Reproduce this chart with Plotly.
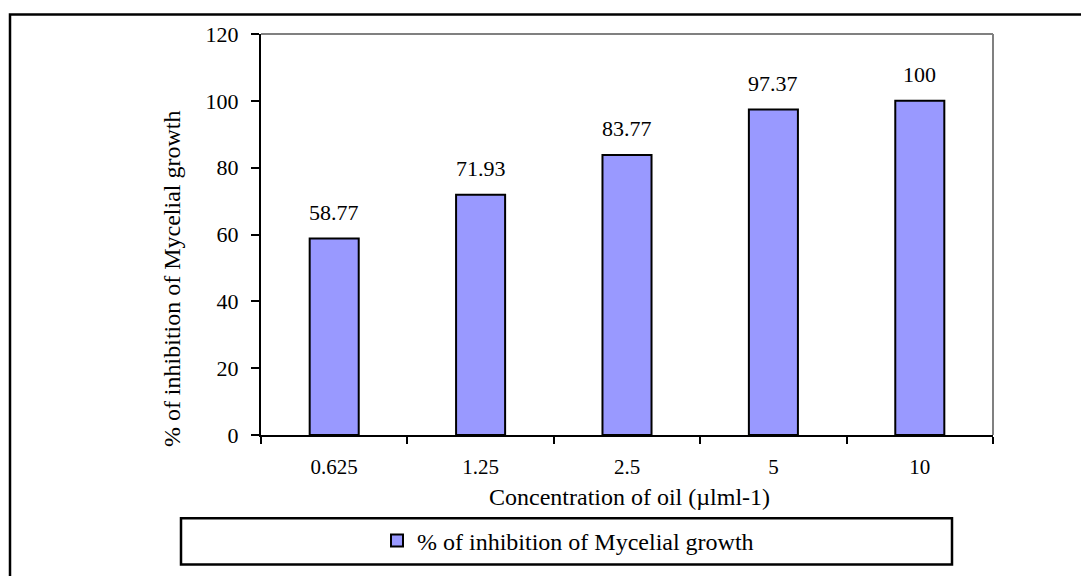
import plotly.graph_objects as go

# Concentration levels (µl/ml) and measured inhibition (%)
concentrations = ["0.625", "1.25", "2.5", "5", "10"]
inhibition = [58.77, 71.93, 83.77, 97.37, 100]
series_name = "% of inhibition of Mycelial growth"
y_ticks = [0, 20, 40, 60, 80, 100, 120]

FONT = "Liberation Serif"
W, H = 1081, 576
L, R, T, B = 261, 993, 34, 443   # plot-area pixel edges


def px_x(px):
    return (px - L) / (R - L)


def px_y(py):
    return (B - py) / (B - T)


fig = go.Figure()
fig.add_trace(go.Bar(
    x=concentrations,
    y=inhibition,
    name=series_name,
    marker=dict(color="#9999FF", line=dict(color="black", width=2)),
    width=0.335,
    showlegend=True,
))

# value labels above bars (category index positions)
annotations = []
for i, v in enumerate(inhibition):
    annotations.append(dict(
        x=i, y=v, xref="x", yref="y", text=f"{v:g}", showarrow=False,
        yanchor="bottom", yshift=12, font=dict(family=FONT, size=22, color="black"),
    ))

# axis titles
annotations.append(dict(
    x=px_x(629), y=px_y(506), xref="paper", yref="paper",
    text="Concentration of oil (µlml-1)", showarrow=False,
    xanchor="center", yanchor="middle", font=dict(family=FONT, size=24, color="black"),
))
annotations.append(dict(
    x=px_x(172), y=px_y(284), xref="paper", yref="paper",
    text="% of inhibition of Mycelial growth", showarrow=False, textangle=-90,
    xanchor="center", yanchor="middle", font=dict(family=FONT, size=24, color="black"),
))

shapes = [
    # outer chart border
    dict(type="rect", xref="paper", yref="paper",
         x0=px_x(10), x1=px_x(1100), y0=px_y(600), y1=px_y(14),
         line=dict(color="black", width=2.5), layer="below"),
    # plot area top and right edges
    dict(type="line", xref="paper", yref="paper", x0=0, x1=1, y0=1, y1=1,
         line=dict(color="#808080", width=2), layer="below"),
    dict(type="line", xref="paper", yref="paper", x0=1, x1=1, y0=0, y1=1,
         line=dict(color="#808080", width=2), layer="below"),
    # legend box
    dict(type="rect", xref="paper", yref="paper",
         x0=px_x(181), x1=px_x(952), y0=px_y(575), y1=px_y(528),
         line=dict(color="black", width=2.5), fillcolor="white", layer="below"),
]

fig.update_layout(
    width=W, height=H,
    margin=dict(l=L, r=W - R, t=T, b=H - B, pad=0),
    paper_bgcolor="white", plot_bgcolor="white",
    font=dict(family=FONT, color="black"),
    bargap=0.665,
    showlegend=True,
    legend=dict(
        orientation="h", x=px_x(568), y=px_y(551), xanchor="center", yanchor="middle",
        font=dict(family=FONT, size=24, color="black"),
        bgcolor="rgba(0,0,0,0)", itemwidth=30,
    ),
    xaxis=dict(
        type="category", range=[-0.5, 4.5],
        showline=True, linecolor="black", linewidth=2,
        ticks="outside", tickson="boundaries", ticklen=7, tickwidth=2, tickcolor="black",
        showgrid=False, zeroline=False, ticklabelstandoff=12,
        tickfont=dict(family=FONT, size=21, color="black"),
    ),
    yaxis=dict(
        range=[0, 120], tickvals=y_ticks, showline=True, linecolor="black", linewidth=2,
        ticks="outside", ticklen=8, tickwidth=2, tickcolor="black",
        showgrid=False, zeroline=False, ticklabelstandoff=8,
        tickfont=dict(family=FONT, size=22, color="black"),
    ),
    annotations=annotations,
    shapes=shapes,
)

fig.write_html("out.html")
